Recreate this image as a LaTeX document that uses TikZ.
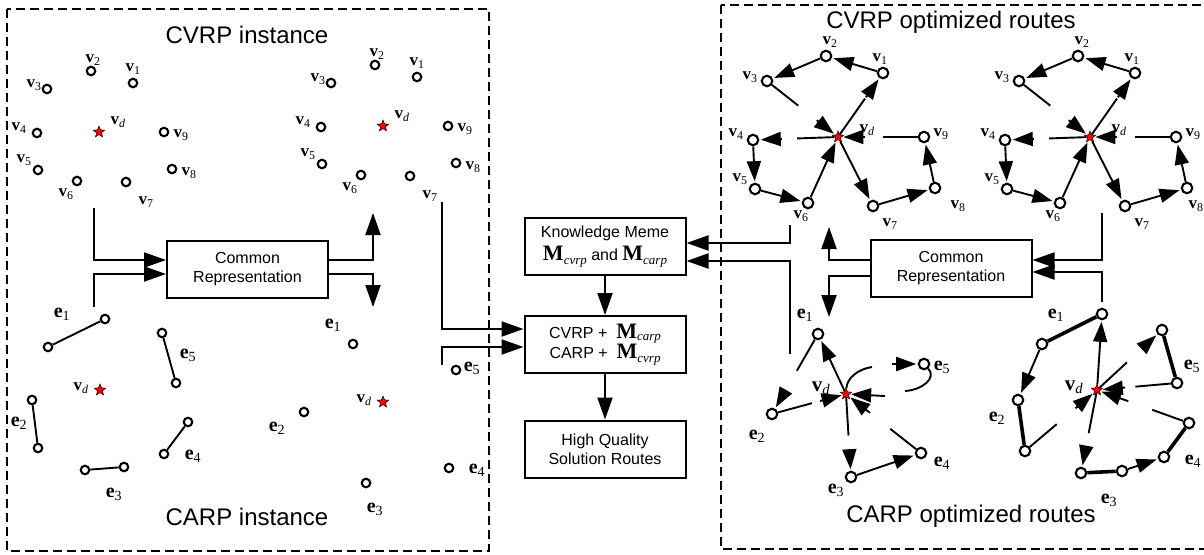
\documentclass[tikz,border=0pt]{standalone}
\usepackage{fontspec}
\setmainfont{Liberation Sans}
\newfontfamily\tms{Liberation Serif}
\usetikzlibrary{arrows.meta,shapes.geometric,calc}

\newcommand\vv[1]{\textbf{v}\textsubscript{#1}}
\newcommand\ee[1]{\textbf{e}\textsubscript{#1}}
\newcommand\bM[2][-4pt]{{\tms\fontsize{22}{22}\selectfont\textbf{M}\raisebox{#1}{\fontsize{13}{13}\selectfont\itshape #2}}}
% route piece: line, gap, then the arrow head
\newcommand\rte[4]{%
  \draw[edge] (#1) -- ($(#1)!#3!(#2)$);
  \draw[edge,tip] ($(#1)!#4!(#2)$) -- (#2);}

\tikzset{
  frame/.style={draw, line width=1.1pt, dash pattern=on 9pt off 5pt},
  box/.style={draw, line width=2pt, minimum width=161pt, minimum height=57pt, align=center,
    inner sep=2pt, font={\fontsize{16}{19}\selectfont\lineskiplimit=-30pt}},
  flow/.style={line width=2pt, -{Triangle[length=22pt,width=15pt]}},
  edge/.style={line width=1.9pt},
  req/.style={line width=3.6pt},
  tip/.style={-{Triangle[length=20pt,width=14pt]}, shorten >=1.5pt},
  pt/.style={circle, draw, line width=2.1pt, fill=white, inner sep=0pt, minimum size=8.5pt},
  rpt/.style={pt, minimum size=10.5pt},
  depot/.style={star, star points=5, star point ratio=2.3, draw, fill=red, line width=0.5pt,
    inner sep=0pt, minimum size=12pt},
  lbl/.style={inner sep=0pt, font=\tms\fontsize{17}{17}\selectfont},
  elbl/.style={inner sep=0pt, font=\tms\fontsize{20}{20}\selectfont},
  title/.style={font=\fontsize{24}{28}\selectfont}
}

\begin{document}
\begin{tikzpicture}[x=1pt,y=-1pt]
\useasboundingbox (0,0) rectangle (1204,554);

% frames and titles
\draw[frame] (7,9) rectangle (489,551);
\draw[frame] (721,5) rectangle (1215,549);
\node[title] (ttl-cvrp) at (247,35) {CVRP instance};
\node[title] (ttl-carp) at (247,517) {CARP instance};
\node[title] (ttl-cvrpopt) at (951,22) {CVRP optimized routes};
\node[title] (ttl-carpopt) at (971,516) {CARP optimized routes};

% CVRP instance, two copies
\foreach \dx/\dy/\c in {0/0/a,284/-6/b}{
  \begin{scope}[shift={(\dx,\dy)}]
    \node[depot] (vd-\c) at (99,132) {};
    \node[lbl] (lvd-\c) at (118,122) {\vv{\textit{d}}};
    \foreach \n/\px/\py/\lx/\ly in {1/133/83/133/69, 2/91/71/93/60, 3/47/89/34/85,
        4/37/133/19/128, 5/38/170/24/160, 6/77/181/66/194, 7/126/182/146/202,
        8/172/169/189/173, 9/164/132/181/135}{
      \node[pt] (v\n-\c) at (\px,\py) {};
      \node[lbl] (lv\n-\c) at (\lx,\ly) {\vv{\n}};
    }
  \end{scope}
}

% CARP instance, edges
\node[depot] (ia-vd) at (100,390) {};
\node[lbl] (ia-lvd) at (81,388) {\vv{\textit{d}}};
\foreach \n/\ax/\ay/\bx/\by/\lx/\ly in {1/105/319/48/347/62/314, 2/32/400/38/448/19/423,
    3/85/470/124/467/114/494, 4/188/422/164/454/193/456, 5/162/333/176/383/188/355}{
  \node[pt] (ia-e\n a) at (\ax,\ay) {};
  \node[pt] (ia-e\n b) at (\bx,\by) {};
  \draw[edge] (ia-e\n a) -- (ia-e\n b);
  \node[elbl] (ia-le\n) at (\lx,\ly) {\ee{\n}};
}

% CARP instance, edges as points
\node[depot] (ib-vd) at (383,402) {};
\node[lbl] (ib-lvd) at (364,400) {\vv{\textit{d}}};
\foreach \n/\px/\py/\lx/\ly in {1/353/344/333/325, 2/304/412/277/428, 3/366/483/375/509,
    4/449/468/477/470, 5/456/370/472/368}{
  \node[pt] (ib-e\n) at (\px,\py) {};
  \node[elbl] (ib-le\n) at (\lx,\ly) {\ee{\n}};
}

% boxes
\node[box] (cr1) at (247.5,269.5) {Common\\Representation};
\node[box] (cr2) at (951,268.5) {Common\\Representation};
\node[box] (km) at (605,246.5) {Knowledge Meme\\[4pt]\bM{cvrp} and \bM{carp}};
\node[box] (mix) at (605,344.5) {CVRP + \ \bM[-2pt]{carp}\\[1pt]CARP + \ \bM{cvrp}};
\node[box] (hq) at (605,449) {High Quality\\Solution Routes};

% flows
\coordinate (in1) at (94,208);
\coordinate (in2) at (94,307);
\coordinate (out1) at (373,213);
\coordinate (out2) at (373,307);
\draw[flow] (in1) |- ([yshift=9.5pt]cr1.west);
\draw[flow] (in2) |- ([yshift=-4.5pt]cr1.west);
\draw[flow] ([yshift=9.5pt]cr1.east) -| (out1);
\draw[flow] ([yshift=-4.5pt]cr1.east) -| (out2);

\coordinate (in3) at (1102,213);
\coordinate (in4) at (1102,302);
\coordinate (out3) at (829,227);
\coordinate (out4) at (829,317);
\draw[flow] (in3) |- ([yshift=8.5pt]cr2.east);
\draw[flow] (in4) |- ([yshift=-3.5pt]cr2.east);
\draw[flow] ([yshift=8.5pt]cr2.west) -| (out3);
\draw[flow] ([yshift=-7.5pt]cr2.west) -| (out4);

\coordinate (in5) at (790,225);
\coordinate (in6) at (790,354);
\draw[flow] (in5) |- ([yshift=3.5pt]km.east);
\draw[flow] (in6) |- ([yshift=-14.5pt]km.east);
\coordinate (in7) at (442,202);
\coordinate (in8) at (442,365);
\draw[flow] (in7) |- ([yshift=15.5pt]mix.west);
\draw[flow] (in8) |- ([yshift=-2.5pt]mix.west);
\draw[flow] (km) -- (mix);
\draw[flow] (mix) -- (hq);

% CVRP optimized routes, two copies
\foreach \dx/\c/\kx in {0/p/0,252/q/-14}{
  \begin{scope}[shift={(\dx,0)}]
    \node[depot] (vd-\c) at (838,137) {};
    \node[lbl] (lvd-\c) at (867,130) {\vv{\textit{d}}};
    \foreach \n/\px/\py in {1/883/73, 2/826/56, 3/767/81, 4/753/140, 5/755/189,
        6/808/203, 7/873/206, 8/935/188, 9/924/137}{
      \node[rpt] (v\n-\c) at (\px,\py) {};
    }
    \foreach \n/\lx/\ly in {1/880/59, 2/830/42, 3/750/77, 4/736/134, 5/740/179,
        6/801/216, 7/890/224, 9/941/134}{
      \node[lbl] (lv\n-\c) at (\lx,\ly) {\vv{\n}};
    }
    \node[lbl] (lv8-\c) at (958+\kx,206) {\vv{8}};
    \rte{vd-\c}{v1-\c}{0.6}{0.62}
    \draw[edge,tip] (v1-\c) -- (v2-\c);
    \draw[edge,tip] (v2-\c) -- (v3-\c);
    \rte{v3-\c}{vd-\c}{0.44}{0.7}
    \rte{vd-\c}{v4-\c}{0.48}{0.66}
    \draw[edge,tip] (v4-\c) -- (v5-\c);
    \draw[edge,tip] (v5-\c) -- (v6-\c);
    \draw[edge,tip] (v6-\c) -- (vd-\c);
    \draw[edge,tip] (vd-\c) -- (v7-\c);
    \draw[edge,tip] (v7-\c) -- (v8-\c);
    \draw[edge,tip] (v8-\c) -- (v9-\c);
    \rte{v9-\c}{vd-\c}{0.48}{0.69}
  \end{scope}
}

% CARP optimized routes, edges as points
\node[depot] (ra-vd) at (846,394) {};
\node[lbl, font=\tms\fontsize{21}{21}\selectfont] (ra-lvd) at (821,388) {\vv{\textit{d}}};
\foreach \n/\px/\py/\lx/\ly in {1/818/334/805/315, 2/772/414/757/436, 3/851/477/836/490,
    4/921/453/942/463, 5/924/364/942/367}{
  \node[rpt] (ra-e\n) at (\px,\py) {};
  \node[elbl] (ra-le\n) at (\lx,\ly) {\ee{\n}};
}
\draw[edge,tip] (ra-vd) -- (ra-e1);
\rte{ra-e1}{ra-e2}{0.46}{0.72}
\rte{ra-e2}{ra-vd}{0.54}{0.65}
\rte{ra-vd}{ra-e3}{0.5}{0.67}
\draw[edge,tip] (ra-e3) -- (ra-e4);
\rte{ra-e4}{ra-vd}{0.41}{0.68}
\coordinate (ra-k1) at (872,367);
\coordinate (ra-k2) at (892,364);
\coordinate (ra-k3) at (905,391);
\coordinate (ra-k4) at (885,396);
\draw[edge] (ra-vd) .. controls (847,378) and (858,369) .. (ra-k1);
\draw[edge,tip] (ra-k2) -- (ra-e5);
\draw[edge] (ra-e5) .. controls (937,378) and (922,390) .. (ra-k3);
\draw[edge,tip] (ra-k4) -- (ra-vd);

% CARP optimized routes, edges
\node[depot] (rb-vd) at (1097,390) {};
\node[lbl, font=\tms\fontsize{21}{21}\selectfont] (rb-lvd) at (1074,387) {\vv{\textit{d}}};
\foreach \n/\ax/\ay/\bx/\by/\lx/\ly in {1/1102/314/1042/344/1056/315, 2/1018/400/1025/451/997/418,
    3/1081/473/1122/471/1109/500, 4/1164/457/1189/423/1193/461, 5/1162/330/1177/383/1192/366}{
  \node[rpt] (rb-e\n a) at (\ax,\ay) {};
  \node[rpt] (rb-e\n b) at (\bx,\by) {};
  \draw[req] (rb-e\n a) -- (rb-e\n b);
  \node[elbl] (rb-le\n) at (\lx,\ly) {\ee{\n}};
}
\draw[edge,tip] (rb-vd) -- (rb-e1a);
\draw[edge,tip] (rb-e1b) -- (rb-e2a);
\rte{rb-e2b}{rb-vd}{0.44}{0.7}
\rte{rb-vd}{rb-e3a}{0.52}{0.7}
\draw[edge,tip] (rb-e3b) -- (rb-e4a);
\rte{rb-e4b}{rb-vd}{0.4}{0.66}
\rte{rb-vd}{rb-e5a}{0.46}{0.71}
\rte{rb-e5b}{rb-vd}{0.52}{0.65}
\end{tikzpicture}
\end{document}
